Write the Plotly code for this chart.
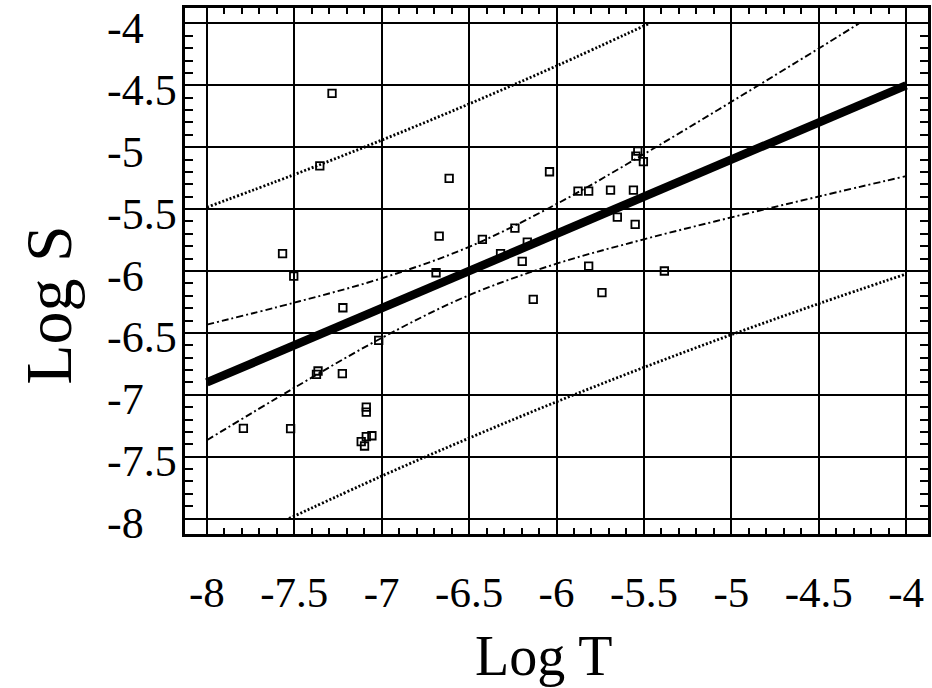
import numpy as np
import plotly.graph_objects as go

# ---- scatter data (Log T, Log S) ----
log_t = [-7.284, -7.354, -6.614, -7.567, -7.503, -7.222, -7.364, -7.373, -7.225,
         -7.017, -6.671, -6.689, -6.424, -7.791, -7.521, -7.088, -7.088, -7.117,
         -7.098, -7.088, -7.056, -6.040, -5.877, -5.816, -5.691, -5.560, -5.535,
         -5.546, -5.503, -6.238, -6.167, -6.196, -6.320, -6.133, -5.816, -5.740,
         -5.652, -5.550, -5.383]
log_s = [-4.565, -5.150, -5.252, -5.860, -6.041, -6.297, -6.808, -6.835, -6.830,
         -6.561, -5.718, -6.014, -5.745, -7.272, -7.274, -7.100, -7.140, -7.379,
         -7.414, -7.339, -7.331, -5.198, -5.354, -5.354, -5.346, -5.346, -5.031,
         -5.072, -5.117, -5.654, -5.766, -5.922, -5.860, -6.230, -5.960, -6.175,
         -5.565, -5.624, -6.000]

# ---- regression line ----
fit_x = [-8.0, -4.0]
fit_y = [-6.9, -4.5]

# ---- confidence band (dash-dot) ----
conf_up_x = [-8.0, -7.5, -7.0, -6.5, -6.0, -5.5, -5.0, -4.5, -4.27]
conf_up_y = [-6.433, -6.256, -6.059, -5.805, -5.459, -5.056, -4.633, -4.202, -4.0]
conf_lo_x = [-8.0, -7.5, -7.0, -6.5, -6.0, -5.5, -5.0, -4.5, -4.0]
conf_lo_y = [-7.367, -6.944, -6.541, -6.195, -5.941, -5.744, -5.567, -5.398, -5.233]

# ---- prediction band (dotted) ----
pred_up_x = [-8.0, -7.5, -7.0, -6.5, -6.0, -5.47]
pred_up_y = [-5.485, -5.221, -4.943, -4.650, -4.343, -4.0]
pred_lo_x = [-7.53, -7.0, -6.5, -6.0, -5.5, -5.0, -4.5, -4.0]
pred_lo_y = [-8.0, -7.657, -7.350, -7.057, -6.779, -6.515, -6.264, -6.024]

# ---- ticks ----
major_vals = [-8, -7.5, -7, -6.5, -6, -5.5, -5, -4.5, -4]
major_text = ["-8", "-7.5", "-7", "-6.5", "-6", "-5.5", "-5", "-4.5", "-4"]
minor_vals = [round(v, 1) for v in np.arange(-7.9, -4.05, 0.1) if abs(round(v * 2) - v * 2) > 1e-6]

FONT = "Liberation Serif, Times New Roman, Times, serif"
RNG = [-8.125, -3.875]

fig = go.Figure()

fig.add_trace(go.Scatter(x=pred_up_x, y=pred_up_y, mode="lines", line_shape="spline",
                         line=dict(color="black", width=2.8, dash="2px,2px"), showlegend=False))
fig.add_trace(go.Scatter(x=pred_lo_x, y=pred_lo_y, mode="lines", line_shape="spline",
                         line=dict(color="black", width=2.8, dash="2px,2px"), showlegend=False))
fig.add_trace(go.Scatter(x=conf_up_x, y=conf_up_y, mode="lines", line_shape="spline",
                         line=dict(color="black", width=1.9, dash="7px,3px,2px,3px"), showlegend=False))
fig.add_trace(go.Scatter(x=conf_lo_x, y=conf_lo_y, mode="lines", line_shape="spline",
                         line=dict(color="black", width=1.9, dash="7px,3px,2px,3px"), showlegend=False))
fig.add_trace(go.Scatter(x=fit_x, y=fit_y, mode="lines",
                         line=dict(color="black", width=8.5), showlegend=False))
fig.add_trace(go.Scatter(x=log_t, y=log_s, mode="markers",
                         marker=dict(symbol="square-open", size=7.5, color="black",
                                     line=dict(color="black", width=1.8)),
                         showlegend=False))

axis_common = dict(
    range=RNG, showgrid=True, gridcolor="black", gridwidth=2,
    tickmode="array", tickvals=major_vals, ticks="",
    showline=True, linecolor="black", linewidth=2.5, mirror="allticks",
    zeroline=False,
)

fig.update_xaxes(**axis_common, ticktext=major_text,
                 tickfont=dict(family=FONT, size=43, color="black"),
                 ticklabelstandoff=19,
                 minor=dict(tickmode="array", tickvals=minor_vals, ticks="inside",
                            ticklen=6, tickwidth=2, tickcolor="black", showgrid=False))
fig.update_yaxes(**axis_common, showticklabels=False,
                 minor=dict(tickmode="array", tickvals=minor_vals, ticks="inside",
                            ticklen=8, tickwidth=2, tickcolor="black", showgrid=False))

annotations = []
for v, t in zip(major_vals, major_text):
    annotations.append(dict(x=-0.1072, xref="paper", y=v, yref="y", text=t,
                            showarrow=False, xanchor="left", yanchor="middle", yshift=-5,
                            font=dict(family=FONT, size=44, color="black")))
annotations.append(dict(x=0.483, xref="paper", y=-0.231, yref="paper", text="Log T",
                        showarrow=False, xanchor="center", yanchor="middle",
                        font=dict(family=FONT, size=56, color="black")))
annotations.append(dict(x=-0.1836, xref="paper", y=0.435, yref="paper", text="Log S",
                        showarrow=False, xanchor="center", yanchor="middle", textangle=-90,
                        font=dict(family=FONT, size=66, color="black")))

fig.update_layout(
    width=932, height=688,
    margin=dict(l=185, r=1, t=8, b=154),
    plot_bgcolor="white", paper_bgcolor="white",
    annotations=annotations,
)

fig.write_html("out.html")
